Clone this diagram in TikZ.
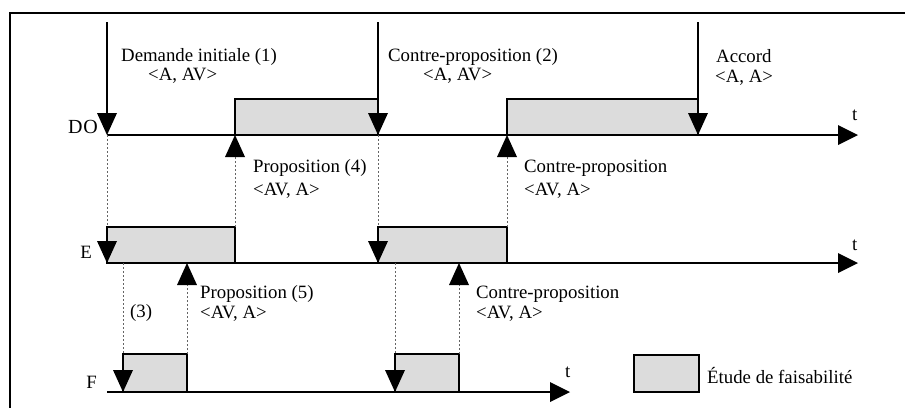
\documentclass[tikz,border=0pt]{standalone}
\usepackage{fontspec}
\setmainfont{Liberation Serif}
\usetikzlibrary{arrows.meta}
\definecolor{boxfill}{RGB}{220,220,220}
\definecolor{dotgray}{RGB}{100,100,100}
\begin{document}
\begin{tikzpicture}[x=1pt,y=-1pt,
  every node/.style={font=\fontsize{18.8}{22}\selectfont, inner sep=0pt},
  lbl/.style={anchor=base west},
  lblr/.style={anchor=base east},
  axis/.style={line width=1.2pt, -{Triangle[width=20pt,length=20pt,line width=0pt]}},
  msg/.style={line width=2.5pt, -{Triangle[width=20pt,length=22pt,line width=0pt]}},
  tipdown/.style={line width=1.8pt, -{Triangle[width=20pt,length=22pt,line width=0pt]}},
  dotline/.style={dotgray, line width=0.9pt, dash pattern=on 2pt off 2pt},
  ret/.style={dotline, -{Triangle[width=20pt,length=22pt,line width=0pt,black]}},
  act/.style={fill=boxfill, draw=black, line width=1.8pt}
]
\useasboundingbox (0,0) rectangle (905,408);
% frame
\coordinate (frTR) at (905,13);
\coordinate (frTL) at (10,13);
\coordinate (frBL) at (10,408);
\draw[line width=1.2pt] (frTR) -- (frTL) -- (frBL);

% axes
\coordinate (DO0) at (107,135); \coordinate (DOend) at (858,135);
\coordinate (E0) at (107,263);  \coordinate (Eend) at (858,263);
\coordinate (F0) at (107,392);  \coordinate (Fend) at (570,392);

% activity boxes
\draw[act] (235,99) rectangle (378,135);
\draw[act] (507,99) rectangle (698,135);
\draw[act] (107,227) rectangle (235,263);
\draw[act] (378,227) rectangle (507,263);
\draw[act] (123,354) rectangle (187,392);
\draw[act] (395,354) rectangle (459,392);
\draw[act] (634,355) rectangle (699,392);

\draw[axis] (DO0) -- (DOend);
\draw[axis] (E0) -- (Eend);
\draw[axis] (F0) -- (Fend);

% named points
\coordinate (Ma) at (107,22);  \coordinate (DOa) at (107,135);
\coordinate (Mc) at (378,22);  \coordinate (DOc) at (378,135);
\coordinate (Me) at (698,22);  \coordinate (DOe) at (698,135);
\coordinate (DOb) at (235,135); \coordinate (DOd) at (507,135);
\coordinate (Ea) at (107,227); \coordinate (Eab) at (107,263);
\coordinate (Eb) at (235,227);
\coordinate (Ec) at (378,227); \coordinate (Ecb) at (378,263);
\coordinate (Ed) at (507,227);
\coordinate (Ef) at (123,263); \coordinate (Eg) at (187,263);
\coordinate (Eh) at (395,263); \coordinate (Ei) at (459,263);
\coordinate (Ff) at (123,354); \coordinate (Ffb) at (123,392);
\coordinate (Fg) at (187,354);
\coordinate (Fh) at (395,354); \coordinate (Fhb) at (395,392);
\coordinate (Fi) at (459,354);

% DO messages
\draw[msg] (Ma) -- (DOa);
\draw[msg] (Mc) -- (DOc);
\draw[msg] (Me) -- (DOe);

% DO -> E
\draw[dotline] (DOa) -- (Ea);
\draw[tipdown] (Ea) -- (Eab);
\draw[dotline] (DOc) -- (Ec);
\draw[tipdown] (Ec) -- (Ecb);
% E -> DO
\draw[ret] (Eb) -- (DOb);
\draw[ret] (Ed) -- (DOd);
% E -> F
\draw[dotline] (Ef) -- (Ff);
\draw[tipdown] (Ff) -- (Ffb);
\draw[dotline] (Eh) -- (Fh);
\draw[tipdown] (Fh) -- (Fhb);
% F -> E
\draw[ret] (Fg) -- (Eg);
\draw[ret] (Fi) -- (Ei);

% axis labels
\node[lblr, font=\fontsize{20}{22}\selectfont] (lDO) at (98,133) {D\kern0.8pt O};
\node[lblr] (lE) at (92,258) {E};
\node[lblr] (lF) at (97,388) {F};
\node[lbl] (t1) at (852,120) {t};
\node[lbl] (t2) at (852,250) {t};
\node[lbl] (t3) at (565,377) {t};

% message labels
\node[lbl] (l1) at (121,61) {Demande initiale (1)};
\node[lbl] (l1b) at (148,80) {<A, AV>};
\node[lbl] (l2) at (388,61) {Contre-proposition (2)};
\node[lbl] (l2b) at (423,80) {<A, AV>};
\node[lbl] (l3) at (716,62) {Accord};
\node[lbl] (l3b) at (715,82) {<A, A>};
\node[lbl] (l4) at (253,172) {Proposition (4)};
\node[lbl] (l4b) at (253,195) {<AV, A>};
\node[lbl] (l5) at (524,172) {Contre-proposition};
\node[lbl] (l5b) at (524,195) {<AV, A>};
\node[lbl] (l6) at (200,298) {Proposition (5)};
\node[lbl] (l6b) at (200,318) {<AV, A>};
\node[lbl] (l7) at (130,317) {(3)};
\node[lbl] (l8) at (476,298) {Contre-proposition};
\node[lbl] (l8b) at (476,318) {<AV, A>};
\node[lbl] (leg) at (707,383) {Étude de faisabilité};
\end{tikzpicture}
\end{document}
